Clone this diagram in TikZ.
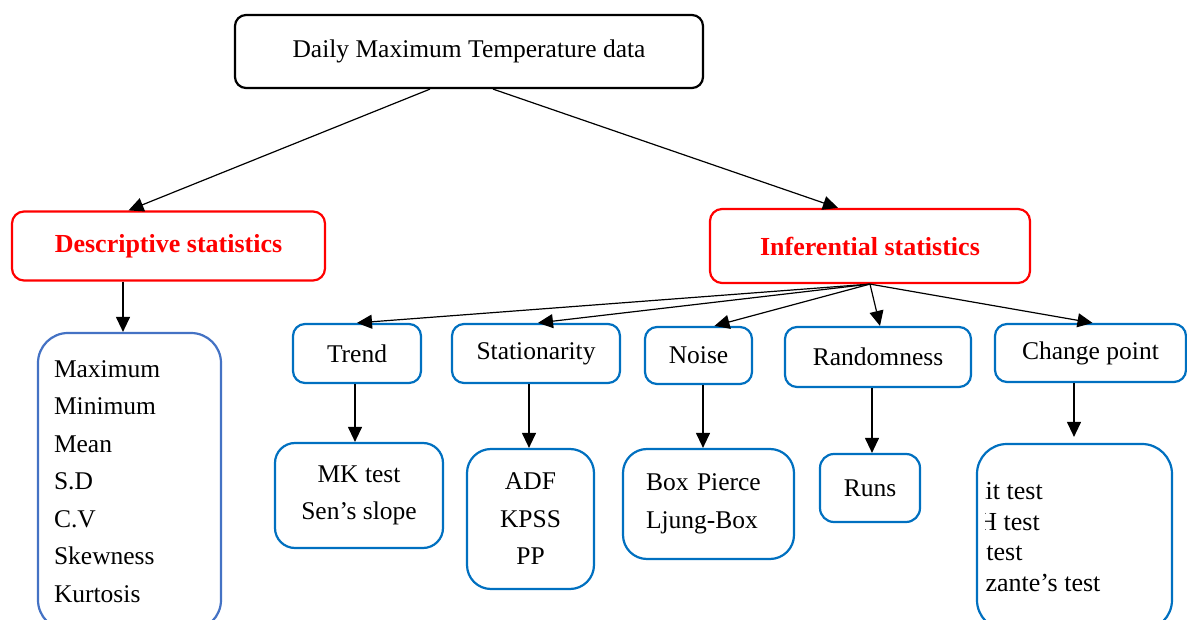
\documentclass[tikz,border=0pt]{standalone}
\usepackage{fontspec}
\setmainfont{Liberation Serif}
\usetikzlibrary{arrows.meta}
\definecolor{boxblue}{HTML}{0070C0}
\definecolor{listblue}{HTML}{4472C4}
\definecolor{headred}{HTML}{FF0000}
\tikzset{
  box/.style={draw, line width=2.2pt, inner sep=0pt, align=center},
  arr/.style={line width=1.2pt, -{Triangle[length=15pt,width=14pt]}},
}
\begin{document}
\begin{tikzpicture}[x=1pt,y=-1pt,font=\fontsize{25.5}{37.5}\selectfont]
\clip (0,0) rectangle (1187,620);
\fill[white] (0,0) rectangle (1187,620);
% heads
\node[box, draw=black, rounded corners=11pt, minimum width=468pt, minimum height=73pt] (top) at (469,51.5) {Daily Maximum Temperature data};
\node[box, draw=headred, text=headred, rounded corners=12pt, minimum width=313pt, minimum height=69pt, font=\fontsize{26}{37.5}\selectfont\bfseries] (desc) at (168.5,246) {Descriptive statistics};
\node[box, draw=headred, text=headred, rounded corners=12pt, minimum width=320pt, minimum height=74pt, font=\fontsize{26}{37.5}\selectfont\bfseries] (infer) at (870,246) {Inferential statistics};
% descriptive list
\node[box, draw=listblue, rounded corners=30pt, minimum width=183pt, minimum height=297pt, text width=151pt, align=left] (list) at (129.5,481.5) {Maximum\\Minimum\\Mean\\S.D\\C.V\\Skewness\\Kurtosis};
% inferential groups
\node[box, draw=boxblue, rounded corners=12pt, minimum width=128pt, minimum height=59pt] (trend) at (357,353.5) {Trend};
\node[box, draw=boxblue, rounded corners=12pt, minimum width=168pt, minimum height=59pt] (station) at (536,353.5) {Stationarity};
\node[box, draw=boxblue, rounded corners=12pt, minimum width=107pt, minimum height=57pt] (noise) at (698.5,355.5) {Noise};
\node[box, draw=boxblue, rounded corners=12pt, minimum width=186pt, minimum height=60pt] (random) at (878,357) {Randomness};
\node[box, draw=boxblue, rounded corners=12pt, minimum width=191pt, minimum height=58pt] (cpoint) at (1090.5,353) {Change point};
% tests
\node[box, draw=boxblue, rounded corners=20pt, minimum width=168pt, minimum height=105pt] (mk) at (359,495.5) {MK test\\Sen’s slope};
\node[box, draw=boxblue, rounded corners=24pt, minimum width=127pt, minimum height=140pt] (adf) at (530.5,519) {ADF\\KPSS\\PP};
\node[box, draw=boxblue, rounded corners=24pt, minimum width=171pt, minimum height=110pt, text width=125pt, align=left] (boxp) at (708.5,504) {Box Pierce\\Ljung-Box};
\node[box, draw=boxblue, rounded corners=14pt, minimum width=100pt, minimum height=68pt] (runs) at (870,488) {Runs};
\node[box, draw=boxblue, rounded corners=30pt, minimum width=195pt, minimum height=186pt] (cpbox) at (1074.5,537) {};
\begin{scope}
\clip (985,446) rectangle (1170,620);
\node[anchor=west, align=left, inner sep=0pt, font=\fontsize{26}{30.5}\selectfont] (cptext) at (945,537) {Pettit test\\SNH test\\BR test\\Lanzante’s test};
\end{scope}
% connectors
\draw[arr] ([xshift=-39pt]top.south) -- ([xshift=-40pt]desc.north);
\draw[arr] ([xshift=24pt]top.south) -- ([xshift=-32pt]infer.north);
\draw[arr] ([xshift=-45.5pt]desc.south) -- ([xshift=-45.5pt]desc.south |- list.north);
\draw[arr] (infer.south) -- (trend.north);
\draw[arr] (infer.south) -- ([xshift=2pt]station.north);
\draw[arr] (infer.south) -- ([xshift=16pt]noise.north);
\draw[arr] (infer.south) -- ([xshift=2pt]random.north);
\draw[arr] (infer.south) -- ([xshift=2pt]cpoint.north);
\draw[arr] ([xshift=-2pt]trend.south) -- ([xshift=-2pt]trend.south |- mk.north);
\draw[arr] ([xshift=-7pt]station.south) -- ([xshift=-7pt]station.south |- adf.north);
\draw[arr] ([xshift=4.5pt]noise.south) -- ([xshift=4.5pt]noise.south |- boxp.north);
\draw[arr] ([xshift=-6pt]random.south) -- ([xshift=-6pt]random.south |- runs.north);
\draw[arr, shorten >=6pt] ([xshift=-16.5pt]cpoint.south) -- ([xshift=-16.5pt]cpoint.south |- cpbox.north);
\end{tikzpicture}
\end{document}
